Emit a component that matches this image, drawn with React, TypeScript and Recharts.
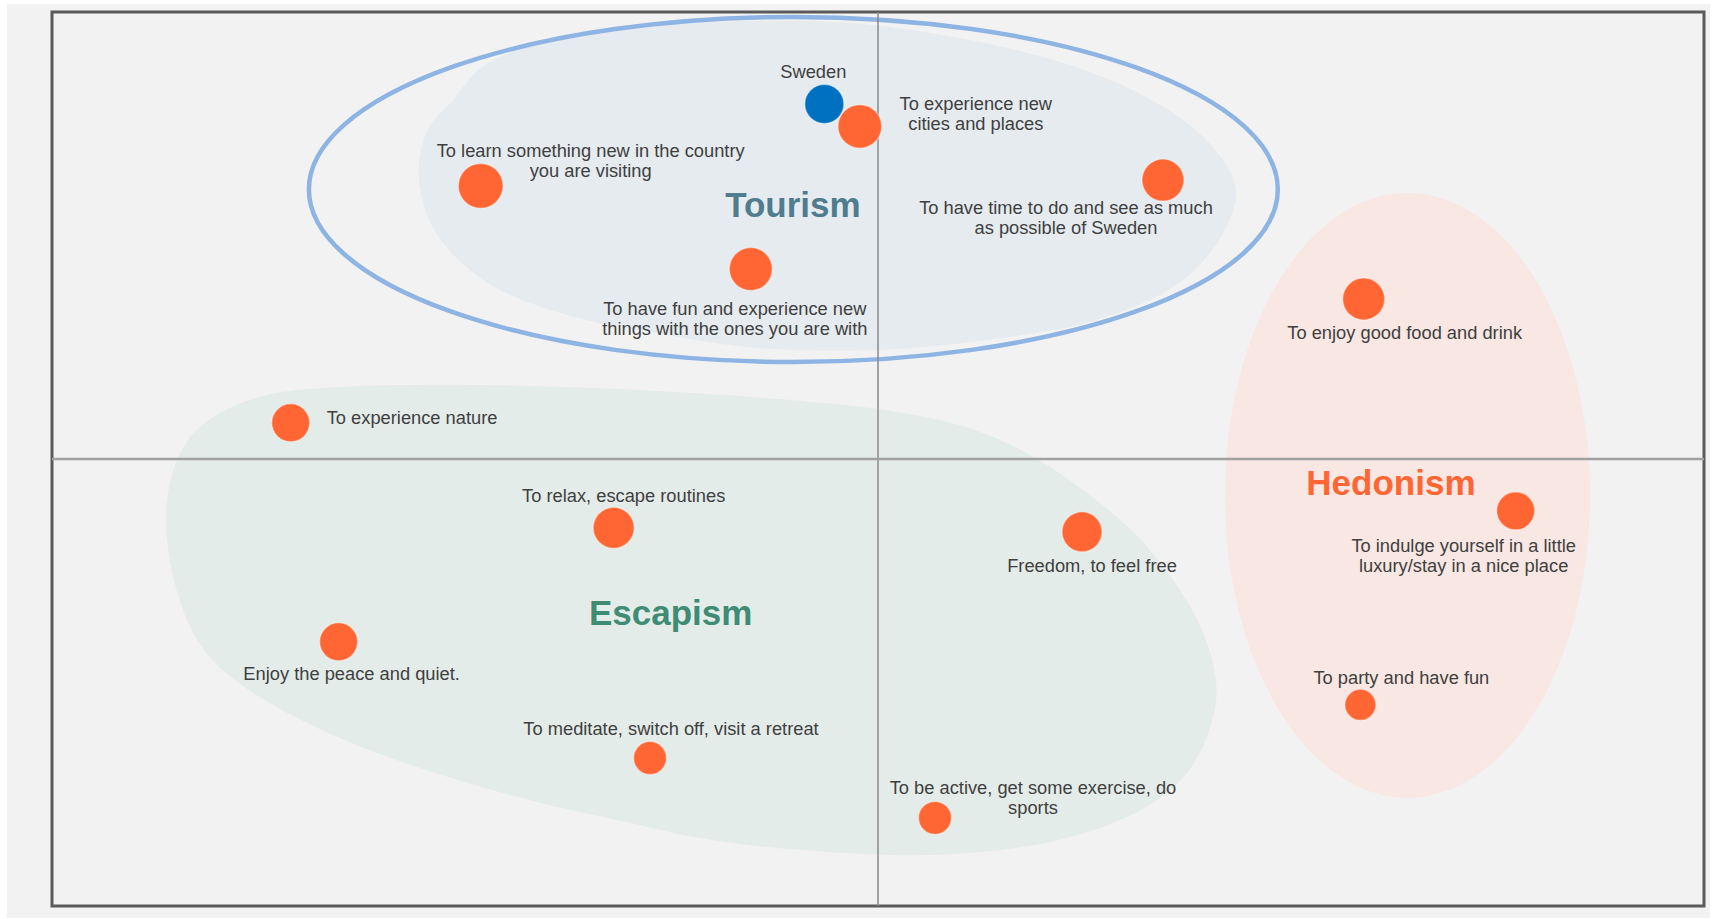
import { ScatterChart, Scatter, XAxis, YAxis, ZAxis, ReferenceArea, ReferenceLine, ReferenceDot } from "recharts";

// motive positions on the two perceptual dimensions (-1..1)
const motives = [
  ["To experience new", "cities and places"],
  ["To learn something new in the country", "you are visiting"],
  ["To have fun and experience new", "things with the ones you are with"],
  ["To have time to do and see as much", "as possible of Sweden"],
  ["To enjoy good food and drink"],
  ["To experience nature"],
  ["To relax, escape routines"],
  ["Enjoy the peace and quiet."],
  ["To meditate, switch off, visit a retreat"],
  ["Freedom, to feel free"],
  ["To indulge yourself in a little", "luxury/stay in a nice place"],
  ["To party and have fun"],
  ["To be active, get some exercise, do", "sports"],
];
const motiveX = [-0.022, -0.481, -0.154, 0.345, 0.588, -0.711, -0.32, -0.653, -0.276, 0.247, 0.772, 0.584, 0.069];
const motiveY = [0.744, 0.611, 0.425, 0.624, 0.358, 0.081, -0.154, -0.409, -0.669, -0.163, -0.116, -0.55, -0.803];
const motiveWeight = [95, 100, 92, 88, 88, 72, 84, 72, 54, 80, 72, 48, 54];

const countries = [["Sweden"]];
const countryX = [-0.065];
const countryY = [0.794];
const countryWeight = [76];

// label placement relative to the dot: [dx, dy of first baseline, anchor]
const motiveLabelPos: [number, number, string][] = [
  [116, -16, "middle"],
  [110, -29, "middle"],
  [-16, 46, "middle"],
  [-97, 34, "middle"],
  [41, 40, "middle"],
  [36, 1, "start"],
  [10, -26, "middle"],
  [13, 38, "middle"],
  [21, -23, "middle"],
  [10, 40, "middle"],
  [-52, 41, "middle"],
  [41, -21, "middle"],
  [98, -24, "middle"],
];
const countryLabelPos: [number, number, string][] = [[-11, -26, "middle"]];

const groupNames = ["Tourism", "Escapism", "Hedonism"];
const groupX = [-0.103, -0.251, 0.621];
const groupY = [0.541, -0.371, -0.081];
const groupColors = ["#4f7d8f", "#3e8c74", "#ff6633"];

// outlines of the cluster shapes, normalised inside their boxes
const tourismOutline = [
  [0, 0.474], [0.011, 0.331], [0.042, 0.24], [0.077, 0.14], [0.136, 0.073], [0.19, 0.036], [0.283, 0.012],
  [0.4, 0], [0.528, 0.006], [0.662, 0.052], [0.797, 0.134], [0.897, 0.24], [0.964, 0.362], [1, 0.505],
  [0.985, 0.644], [0.931, 0.796], [0.83, 0.909], [0.695, 0.97], [0.561, 1], [0.4, 0.991], [0.271, 0.939],
  [0.19, 0.9], [0.084, 0.796], [0.021, 0.644],
];
const escapismOutline = [
  [0, 0.294], [0.006, 0.189], [0.023, 0.111], [0.051, 0.06], [0.094, 0.023], [0.156, 0.006], [0.279, 0],
  [0.394, 0.006], [0.498, 0.017], [0.603, 0.034], [0.694, 0.057], [0.77, 0.096], [0.827, 0.155], [0.879, 0.234],
  [0.928, 0.33], [0.965, 0.436], [0.99, 0.543], [1, 0.649], [0.993, 0.734], [0.974, 0.819], [0.933, 0.898],
  [0.85, 0.968], [0.729, 1], [0.603, 0.989], [0.508, 0.964], [0.442, 0.932], [0.346, 0.883], [0.257, 0.826],
  [0.175, 0.76], [0.105, 0.685], [0.056, 0.611], [0.03, 0.543], [0.01, 0.436],
];

const motiveData = motives.map((lines, i) => ({ x: motiveX[i], y: motiveY[i], z: motiveWeight[i], lines, pos: motiveLabelPos[i] }));
const countryData = countries.map((lines, i) => ({ x: countryX[i], y: countryY[i], z: countryWeight[i], lines, pos: countryLabelPos[i] }));

// centripetal catmull-rom, closed
function closedCurve(pts: number[][]) {
  const n = pts.length;
  const len = (a: number[], b: number[]) => Math.hypot(b[0] - a[0], b[1] - a[1]);
  let d = `M${pts[0][0]},${pts[0][1]}`;
  for (let i = 0; i < n; i++) {
    const p0 = pts[(i - 1 + n) % n], p1 = pts[i], p2 = pts[(i + 1) % n], p3 = pts[(i + 2) % n];
    const l01 = Math.sqrt(len(p0, p1)), l12 = Math.sqrt(len(p1, p2)), l23 = Math.sqrt(len(p2, p3));
    const a = 2 * l01 * l01 + 3 * l01 * l12 + l12 * l12, na = 3 * l01 * (l01 + l12);
    const b = 2 * l23 * l23 + 3 * l23 * l12 + l12 * l12, nb = 3 * l23 * (l23 + l12);
    const c1 = [0, 1].map((k) => (p1[k] * a - p0[k] * l12 * l12 + p2[k] * l01 * l01) / na);
    const c2 = [0, 1].map((k) => (p2[k] * b + p1[k] * l23 * l23 - p3[k] * l12 * l12) / nb);
    d += ` C${c1[0]},${c1[1]} ${c2[0]},${c2[1]} ${p2[0]},${p2[1]}`;
  }
  return d + " Z";
}

const blob = (outline: number[][], fill: string) => (p: any) => {
  const pts = outline.map(([u, v]) => [p.x + u * p.width, p.y + v * p.height]);
  return <path d={closedCurve(pts)} fill={fill} stroke="none" />;
};

const ellipse = (fill: string, stroke: string, strokeWidth: number) => (p: any) => (
  <ellipse cx={p.x + p.width / 2} cy={p.y + p.height / 2} rx={p.width / 2} ry={p.height / 2} fill={fill} stroke={stroke} strokeWidth={strokeWidth} />
);

const labelFont = "'Liberation Sans', Arial, sans-serif";

const dot = (color: string) => (p: any) => {
  const r = p.width ? p.width / 2 : Math.sqrt(p.size / Math.PI);
  const [dx, dy, anchor] = p.payload.pos;
  return (
    <g>
      <circle cx={p.cx} cy={p.cy} r={r} fill={color} stroke="#ffffff" strokeOpacity={0.35} strokeWidth={1.5} />
      <text x={p.cx + dx} y={p.cy + dy} textAnchor={anchor} fontFamily={labelFont} fontSize={18.3} fill="#3f3f3f">
        {p.payload.lines.map((l: string, k: number) => (
          <tspan key={k} x={p.cx + dx} dy={k === 0 ? 0 : 20}>{l}</tspan>
        ))}
      </text>
    </g>
  );
};

export default function App() {
  return (
    <div style={{ position: "absolute", left: 0, top: 0, width: 1712, height: 919, background: "#ffffff" }}>
      <div style={{ position: "absolute", left: 7, top: 4, width: 1703, height: 914, background: "#f2f2f2" }} />
      <div style={{ position: "absolute", left: 0, top: 0 }}>
        <ScatterChart width={1712} height={919} margin={{ top: 12, right: 8, bottom: 13, left: 52 }}>
          <XAxis type="number" dataKey="x" domain={[-1, 1]} hide />
          <YAxis type="number" dataKey="y" domain={[-1, 1]} hide />
          <ZAxis type="number" dataKey="z" domain={[0, 100]} range={[0, 1571]} />

          <ReferenceArea x1={-0.556} x2={0.433} y1={0.244} y2={0.98} shape={blob(tourismOutline, "#e5ebef")} />
          <ReferenceArea x1={-0.862} x2={0.41} y1={-0.886} y2={0.166} shape={blob(escapismOutline, "#e4ecea")} />
          <ReferenceArea x1={0.42} x2={0.862} y1={-0.758} y2={0.595} shape={ellipse("#f8e7e3", "none", 0)} />

          <ReferenceLine x={0} stroke="#8a8a8a" strokeWidth={1.5} />
          <ReferenceLine y={0} stroke="#a0a0a0" strokeWidth={2.5} />

          <ReferenceArea x1={-0.689} x2={0.484} y1={0.217} y2={0.989} shape={ellipse("none", "#8db4e2", 4.5)} />
          <ReferenceArea x1={-1} x2={1} y1={-1} y2={1} shape={(p: any) => (
            <rect x={p.x} y={p.y} width={p.width} height={p.height} fill="none" stroke="#5a5a5a" strokeWidth={3} />
          )} />

          {groupNames.map((name, i) => (
            <ReferenceDot key={name} x={groupX[i]} y={groupY[i]} r={0} shape={(p: any) => (
              <text x={p.cx} y={p.cy} textAnchor="middle" fontFamily={labelFont} fontWeight="bold" fontSize={35} fill={groupColors[i]}>{name}</text>
            )} />
          ))}

          <Scatter data={countryData} fill="#0070c0" shape={dot("#0070c0")} isAnimationActive={false} />
          <Scatter data={motiveData} fill="#ff6633" shape={dot("#ff6633")} isAnimationActive={false} />
        </ScatterChart>
      </div>
    </div>
  );
}
